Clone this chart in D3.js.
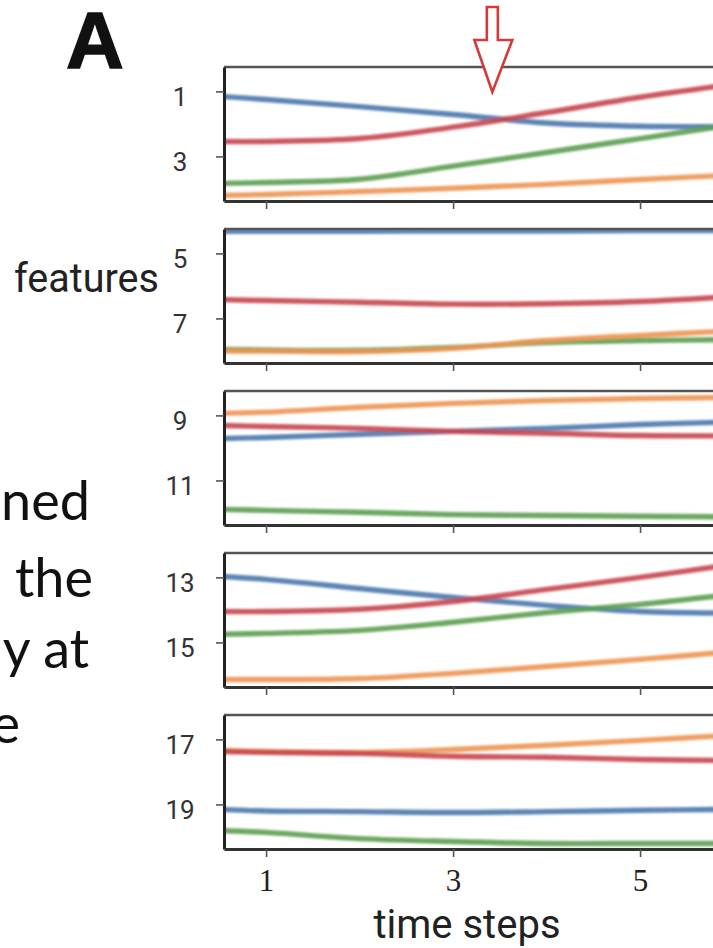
<!DOCTYPE html>
<html>
<head>
<meta charset="utf-8">
<script src="https://cdn.jsdelivr.net/npm/d3@7"></script>
<style>
  body { margin: 0; background: #fff; }
  svg { display: block; }
</style>
</head>
<body>
<svg id="chart" width="713" height="948"></svg>
<script>
const timeSteps = [0.5, 1, 2, 3, 4, 5, 6];
const xTickValues = [1, 3, 5];
const xTickLabels = ['1', '3', '5'];
// first feature index of each stacked panel (ticks at f and f+2)
const panelFeatures = [1, 5, 9, 13, 17];

// panel 1 (features 1-4)
const blue1   = [1.15, 1.25, 1.47, 1.71, 1.97, 2.07, 2.08];
const red1    = [2.54, 2.54, 2.45, 2.10, 1.65, 1.18, 0.78];
const green1  = [3.83, 3.80, 3.70, 3.30, 2.88, 2.45, 2.02];
const orange1 = [4.20, 4.17, 4.08, 3.98, 3.86, 3.71, 3.57];
// panel 2 (features 5-8)
const blue2   = [4.32, 4.32, 4.32, 4.31, 4.31, 4.30, 4.30];
const red2    = [6.42, 6.45, 6.50, 6.56, 6.55, 6.48, 6.32];
const green2  = [7.95, 7.97, 7.98, 7.89, 7.74, 7.68, 7.65];
const orange2 = [8.00, 8.00, 8.02, 7.92, 7.68, 7.52, 7.38];
// panel 3 (features 9-12)
const blue3   = [9.71, 9.68, 9.58, 9.49, 9.40, 9.28, 9.20];
const red3    = [9.31, 9.34, 9.40, 9.49, 9.55, 9.62, 9.63];
const green3  = [11.89, 11.92, 11.98, 12.05, 12.08, 12.10, 12.12];
const orange3 = [8.94, 8.90, 8.75, 8.63, 8.54, 8.48, 8.45];
// panel 4 (features 13-16)
const blue4   = [12.97, 13.06, 13.34, 13.62, 13.86, 14.05, 14.10];
const red4    = [14.05, 14.05, 13.98, 13.74, 13.37, 13.00, 12.60];
const green4  = [14.75, 14.72, 14.63, 14.38, 14.08, 13.83, 13.52];
const orange4 = [16.14, 16.14, 16.11, 15.95, 15.74, 15.52, 15.28];
// panel 5 (features 17-20)
const blue5   = [19.15, 19.20, 19.22, 19.25, 19.22, 19.18, 19.15];
const red5    = [17.37, 17.40, 17.43, 17.52, 17.55, 17.62, 17.65];
const green5  = [19.80, 19.86, 20.05, 20.14, 20.20, 20.20, 20.20];
const orange5 = [17.34, 17.37, 17.40, 17.31, 17.18, 17.03, 16.87];

// slide text partly visible on the left
const sideWords = ['ned', 'the', 'y at', 'e'];

const colors = {blue: '#4a78ad', orange: '#ee9553', green: '#5c9e52', red: '#c8464f'};
const drawOrder = ['blue', 'green', 'orange', 'red'];

const panels = [
  {blue: blue1, red: red1, green: green1, orange: orange1},
  {blue: blue2, red: red2, green: green2, orange: orange2},
  {blue: blue3, red: red3, green: green3, orange: orange3},
  {blue: blue4, red: red4, green: green4, orange: orange4},
  {blue: blue5, red: red5, green: green5, orange: orange5}
];

const left = 224;
const unitX = 93.5;
const top0 = 67;
const panelStep = 162;
const panelH = 134;
const plotRight = left + 6.9 * unitX;

const svg = d3.select('#chart');

svg.append('rect').attr('width', 713).attr('height', 948).attr('fill', '#fff');

const defs = svg.append('defs');
defs.append('filter').attr('id', 'soft')
  .append('feGaussianBlur').attr('stdDeviation', 0.8);

const x = d3.scaleLinear()
  .domain([0.55, 7.45])
  .range([left, plotRight]);

panels.forEach(function(p, i) {
  const f = panelFeatures[i];
  const top = top0 + i * panelStep;
  const y = d3.scaleLinear()
    .domain([f - 0.75, f + 3.37])
    .range([top, top + panelH]);

  defs.append('clipPath').attr('id', 'clip' + i)
    .append('rect')
    .attr('x', left).attr('y', top)
    .attr('width', plotRight - left).attr('height', panelH);

  const g = svg.append('g');

  const line = d3.line()
    .x(function(d, j) { return x(timeSteps[j]); })
    .y(function(d) { return y(d); })
    .curve(d3.curveCatmullRom.alpha(0.5));

  const lines = g.append('g')
    .attr('clip-path', 'url(#clip' + i + ')')
    .append('g')
    .attr('filter', 'url(#soft)');

  drawOrder.forEach(function(name) {
    lines.append('path')
      .datum(p[name])
      .attr('fill', 'none')
      .attr('stroke', colors[name])
      .attr('stroke-width', 5.4)
      .attr('stroke-opacity', 0.9)
      .attr('stroke-linecap', 'round')
      .attr('d', line);
  });

  // top border
  g.append('line')
    .attr('x1', left).attr('x2', plotRight)
    .attr('y1', top).attr('y2', top)
    .attr('stroke', '#555').attr('stroke-width', 2.6);

  // y axis
  const yAxis = g.append('g')
    .attr('transform', 'translate(' + left + ',0)')
    .call(d3.axisLeft(y).tickValues([f, f + 2]).tickFormat(d3.format('d'))
      .tickSize(8).tickSizeOuter(0));
  yAxis.select('.domain').attr('stroke', '#222').attr('stroke-width', 3);
  yAxis.selectAll('.tick line').attr('stroke', '#555').attr('stroke-width', 1.6);
  yAxis.selectAll('.tick text')
    .attr('x', -44)
    .attr('dy', '0.55em')
    .attr('text-anchor', 'middle')
    .attr('font-family', 'Roboto, sans-serif')
    .attr('font-size', 26)
    .attr('fill', '#333');

  // x axis
  const xAxis = g.append('g')
    .attr('transform', 'translate(0,' + (top + panelH) + ')')
    .call(d3.axisBottom(x).tickValues(xTickValues).tickSize(8).tickSizeOuter(0)
      .tickFormat(function(d, k) { return xTickLabels[k]; }));
  xAxis.select('.domain').attr('stroke', '#333').attr('stroke-width', 3);
  xAxis.selectAll('.tick line').attr('stroke', '#555').attr('stroke-width', 1.6);
  if (i === panels.length - 1) {
    xAxis.selectAll('.tick text')
      .attr('y', 42)
      .attr('dy', 0)
      .attr('font-family', '"Liberation Serif", serif')
      .attr('font-size', 31)
      .attr('fill', '#222');
  } else {
    xAxis.selectAll('.tick text').remove();
  }
});

// red outline arrow marking the crossing
const ax = x(3.42);
svg.append('path')
  .attr('d', 'M' + (ax - 5.5) + ',7 L' + (ax + 5.5) + ',7 L' + (ax + 5.5) + ',40 L' + (ax + 20) + ',40 L' +
    ax + ',92 L' + (ax - 18) + ',40 L' + (ax - 5.5) + ',40 Z')
  .attr('fill', '#fff')
  .attr('stroke', '#d8383a')
  .attr('stroke-width', 2.6)
  .attr('stroke-linejoin', 'miter');

// panel letter
svg.append('text')
  .attr('x', 66).attr('y', 68)
  .attr('font-family', '"Liberation Sans", Arial, sans-serif')
  .attr('font-weight', 'bold')
  .attr('font-size', 80)
  .attr('fill', '#111')
  .attr('stroke', '#111').attr('stroke-width', 1.5)
  .text('A');

// axis titles
svg.append('text')
  .attr('x', 159).attr('y', 292)
  .attr('text-anchor', 'end')
  .attr('font-family', 'Roboto, sans-serif')
  .attr('font-size', 41)
  .attr('textLength', 145)
  .attr('lengthAdjust', 'spacingAndGlyphs')
  .attr('fill', '#222')
  .text('features');

svg.append('text')
  .attr('x', 467).attr('y', 938)
  .attr('text-anchor', 'middle')
  .attr('font-family', 'Roboto, sans-serif')
  .attr('font-size', 40)
  .attr('fill', '#222')
  .text('time steps');

// cut off slide words
const wordEnds = [90, 93, 89, 20];
const wordBase = [520, 597, 668, 743];
svg.append('g').selectAll('text')
  .data(sideWords)
  .join('text')
  .attr('x', function(d, k) { return wordEnds[k]; })
  .attr('y', function(d, k) { return wordBase[k]; })
  .attr('text-anchor', 'end')
  .attr('font-family', 'Lato, sans-serif')
  .attr('font-size', 54)
  .attr('fill', '#111')
  .text(function(d) { return d; });
</script>
</body>
</html>
